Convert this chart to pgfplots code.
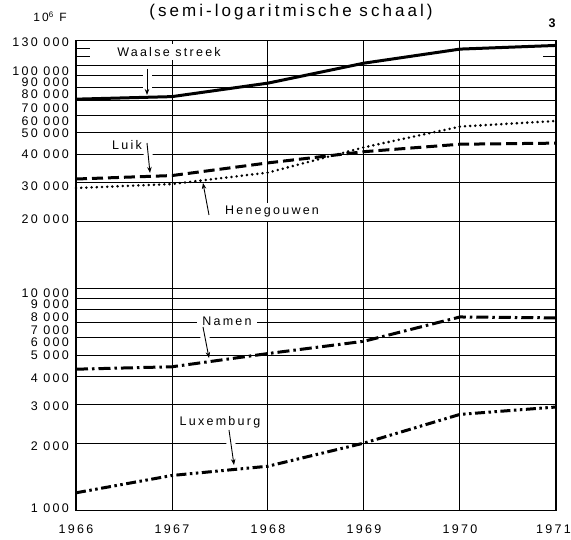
\documentclass[border=0pt]{standalone}
\usepackage{fontspec}
\setmainfont{Liberation Sans}[LetterSpace=18]
\usepackage{pgfplots}
\pgfplotsset{compat=1.18}
\usetikzlibrary{arrows.meta}
\newcommand\lab{\fontsize{12.5}{14}\selectfont}
\begin{document}
\begin{tikzpicture}
\path[use as bounding box] (0,0) rectangle (571pt,540pt);
\begin{axis}[
  at={(76pt,29.5pt)}, anchor=south west,
  scale only axis, width=480pt, height=470pt,
  xmin=1966, xmax=1971,
  ymode=log, ymin=1000, ymax=130000,
  xtick={1966,1967,1968,1969,1970,1971},
  xticklabels={1966,1967,1968,1969,1970,1971\hspace*{5pt}},
  xticklabel style={font=\fontsize{12.5}{14}\selectfont, anchor=center, yshift=-18.5pt},
  ytick={1000,2000,3000,4000,5000,6000,7000,8000,9000,10000,20000,30000,40000,50000,60000,70000,80000,90000,100000},
  yticklabels={},
  minor ytick={},
  major tick length=0pt,
  grid=major,
  major grid style={black, line width=1pt},
  axis line style={black, line width=1.5pt},
  clip=false,
]
\addplot[black, line width=3pt] coordinates {(1966,70800) (1967,72700) (1968,83600) (1969,102800) (1970,118900) (1971,123500)};
\addplot[black, line width=3pt, dash pattern=on 11pt off 5pt] coordinates {(1966,30970) (1967,32100) (1968,36600) (1969,41100) (1970,44400) (1971,44900)};
\addplot[black, line width=2.8pt, line cap=round, dash pattern=on 0pt off 5.2pt] coordinates {(1966,28200) (1967,29400) (1968,33100) (1969,43000) (1970,53300) (1971,56500)};
\addplot[black, line width=3pt, dash pattern=on 12pt off 4pt on 2.5pt off 4pt] coordinates {(1966,4320) (1967,4430) (1968,5080) (1969,5770) (1970,7420) (1971,7350)};
\addplot[black, line width=3pt, dash pattern=on 10pt off 3.5pt on 2.5pt off 3.5pt on 2.5pt off 3.5pt] coordinates {(1966,1201) (1967,1437) (1968,1582) (1969,2010) (1970,2706) (1971,2920)};
\end{axis}
% short ticks at 110 000 and 120 000
\draw[line width=1pt] (76pt,483.2pt) -- ++(14pt,0);
\draw[line width=1pt] (76pt,491.6pt) -- ++(14pt,0);
\draw[line width=1pt] (556pt,483.2pt) -- ++(-13pt,0);
% y tick labels
\begin{scope}[every node/.style={anchor=east, inner sep=0pt, font=\lab}]
\node at (69pt,498pt) {130 000};
\node at (69pt,469pt) {100 000};
\node at (69pt,458pt) {90 000};
\node at (69pt,446pt) {80 000};
\node at (69pt,432pt) {70 000};
\node at (69pt,419pt) {60 000};
\node at (69pt,407pt) {50 000};
\node at (69pt,386pt) {40 000};
\node at (69pt,354pt) {30 000};
\node at (69pt,321pt) {20 000};
\node at (69pt,247pt) {10 000};
\node at (69pt,236pt) {9 000};
\node at (69pt,223pt) {8 000};
\node at (69pt,210pt) {7 000};
\node at (69pt,198pt) {6 000};
\node at (69pt,185pt) {5 000};
\node at (69pt,162pt) {4 000};
\node at (69pt,134pt) {3 000};
\node at (69pt,94pt) {2 000};
\node at (69pt,32pt) {1 000};
\end{scope}
% titles
\node[font=\fontsize{17}{20}\selectfont] at (291pt,528pt) {(semi-logaritmische schaal)};
\node[font=\fontsize{12}{14}\selectfont] at (50pt,523pt) {10\textsuperscript{6} F};
\node[font=\bfseries\fontsize{12.5}{14}\selectfont] at (552pt,517pt) {3};
% series labels
\begin{scope}[every node/.style={fill=white, inner xsep=2pt, inner ysep=3pt, font=\lab}]
\node at (169pt,488pt) {Waalse streek};
\node at (127pt,395pt) {Luik};
\node at (272pt,328pt) {Henegouwen};
\node[inner xsep=5pt, inner ysep=4.5pt] at (227pt,219pt) {Namen};
\node at (220pt,118pt) {Luxemburg};
\end{scope}
% arrows with white halo
\newcommand\harrow[2]{%
  \draw[white, line width=9pt, shorten >=7pt] #1 -- #2;
  \draw[black, line width=0.9pt, -{Stealth[length=6pt,width=4.5pt]}] #1 -- #2;}
\harrow{(147pt,471pt)}{(147pt,445pt)}
\harrow{(147pt,397pt)}{(150pt,367pt)}
\harrow{(209pt,325pt)}{(203pt,357pt)}
\harrow{(203pt,213pt)}{(209pt,182pt)}
\harrow{(229pt,110pt)}{(234pt,75pt)}
\end{tikzpicture}
\end{document}
